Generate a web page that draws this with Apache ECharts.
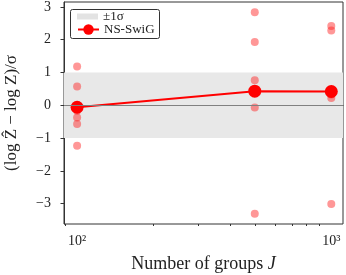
<!DOCTYPE html>
<html>
<head>
<meta charset="utf-8">
<script src="https://cdn.jsdelivr.net/npm/echarts@6/dist/echarts.min.js"></script>
<style>html,body{margin:0;padding:0;background:#fff}#c{width:346px;height:275px}</style>
</head>
<body>
<div id="c"></div>
<script>
var groups = [100, 500, 1000];
var meanDelta = [-0.06, 0.43, 0.42];
var runs100 = [1.18, 0.57, -0.02, -0.17, -0.37, -0.57, -1.23];
var runs500 = [2.84, 1.93, 0.76, -0.07, -3.31];
var runs1000 = [2.42, 2.28, 0.33, 0.22, -3.01];
var yTicks = [-3, -2, -1, 0, 1, 2, 3];
var xMajor = [100, 1000];
var xMinor = [90, 200, 300, 400, 500, 600, 700, 800, 900];
var band = [-1, 1];

var FONT = 'Liberation Serif';
var runs = [runs100, runs500, runs1000];
var scatterData = [];
groups.forEach(function (g, i) { runs[i].forEach(function (v) { scatterData.push([g, v]); }); });
var meanData = groups.map(function (g, i) { return [g, meanDelta[i]]; });

var chart = echarts.init(document.getElementById('c'), null, {renderer: 'canvas'});
var xBase = {
  type: 'log', logBase: 10, min: 88.8, max: 1112, gridIndex: 0,
  splitLine: {show: false}, minorTick: {show: false}, minorSplitLine: {show: false}
};
chart.setOption({
  animation: false,
  grid: {left: 64, right: 3, top: 2, bottom: 51, show: true, borderColor: '#333', borderWidth: 1,
    containLabel: false, outerBoundsMode: 'none'},
  legend: [{
    left: 72, top: 5, itemWidth: 21, itemHeight: 6, itemGap: 4,
    data: [{name: '±1σ', icon: 'rect', itemStyle: {color: '#e3e3e3'}}],
    textStyle: {fontFamily: FONT, fontSize: 13, color: '#222'}, selectedMode: false
  }, {
    left: 72, top: 18, itemWidth: 21, itemHeight: 13,
    data: ['NS-SwiG'],
    textStyle: {fontFamily: FONT, fontSize: 13, color: '#222'}, selectedMode: false
  }],
  graphic: [{
    type: 'rect', left: 68, top: 7, z: 100,
    shape: {width: 89, height: 29, r: 2},
    style: {fill: null, stroke: '#333', lineWidth: 1}
  }],
  xAxis: [Object.assign({}, xBase, {
    position: 'bottom',
    name: 'Number of groups {i|J}', nameLocation: 'middle', nameGap: 31,
    nameTextStyle: {fontFamily: FONT, fontSize: 18, color: '#222', rich: {i: {fontFamily: FONT, fontStyle: 'italic', fontSize: 18, color: '#222'}}},
    axisLine: {show: true, lineStyle: {color: '#333', width: 1}},
    axisTick: {show: true, length: 3.5, customValues: xMajor, lineStyle: {color: '#333'}},
    axisLabel: {show: true, customValues: xMajor, margin: 10, fontFamily: FONT, fontSize: 14, color: '#222',
      formatter: function (v) { return Math.round(v) === 100 ? '10²' : '10³'; }}
  }), Object.assign({}, xBase, {
    position: 'bottom',
    axisLine: {show: false},
    axisTick: {show: true, length: 2, customValues: xMinor, lineStyle: {color: '#333'}},
    axisLabel: {show: false}
  })],
  yAxis: {
    type: 'value', min: -3.62, max: 3.15,
    name: '(log Ẑ − log Z)/σ', nameLocation: 'middle', nameGap: 44,
    nameTextStyle: {fontFamily: FONT, fontSize: 17, color: '#222'},
    splitLine: {show: false},
    axisLine: {show: true, lineStyle: {color: '#333', width: 1}},
    axisTick: {show: true, length: 3.5, customValues: yTicks, lineStyle: {color: '#333'}},
    axisLabel: {customValues: yTicks, margin: 13, fontFamily: FONT, fontSize: 14, color: '#222',
      formatter: function (v) { return v < 0 ? '\u2212' + Math.abs(v) : String(v); }}
  },
  series: [{
    name: '±1σ', type: 'line', data: [], itemStyle: {color: '#e3e3e3'},
    markArea: {silent: true, itemStyle: {color: '#e8e8e8'}, data: [[{yAxis: band[0]}, {yAxis: band[1]}]]},
    markLine: {silent: true, symbol: 'none', label: {show: false},
      lineStyle: {color: '#808080', width: 1, type: 'solid'}, data: [{yAxis: 0}]}
  }, {
    name: 'runs', type: 'scatter', data: scatterData, symbolSize: 8,
    itemStyle: {color: 'rgba(255,30,30,0.58)'}, z: 3
  }, {
    name: 'NS-SwiG', type: 'line', data: meanData, symbol: 'circle', symbolSize: 13,
    lineStyle: {color: '#ff0000', width: 2}, itemStyle: {color: '#ff0000'}, z: 4
  }]
});
</script>
</body>
</html>
